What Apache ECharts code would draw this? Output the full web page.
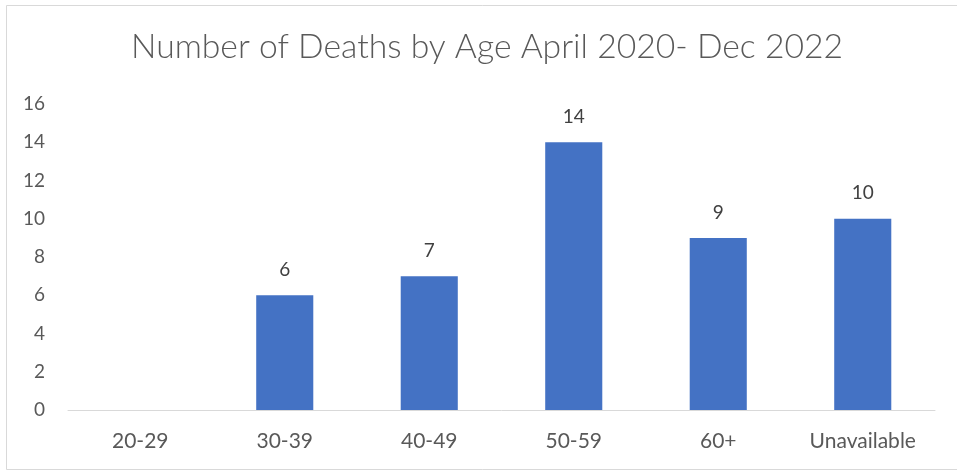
<!DOCTYPE html>
<html>
<head>
<meta charset="utf-8">
<style>
  html, body { margin: 0; padding: 0; background: #fff; }
  #chart { width: 957px; height: 472px; }
</style>
<script src="https://cdn.jsdelivr.net/npm/echarts@6/dist/echarts.min.js"></script>
</head>
<body>
<div id="chart"></div>
<script>
// Age groups and number of deaths in each
const ageGroups = ['20-29', '30-39', '40-49', '50-59', '60+', 'Unavailable'];
const deaths = [null, 6, 7, 14, 9, 10];
const yTicks = { min: 0, max: 16, interval: 2 };

const FONT = 'Lato, "Open Sans", sans-serif';

const chart = echarts.init(document.getElementById('chart'), null, { renderer: 'canvas' });

chart.setOption({
  animation: false,
  backgroundColor: '#ffffff',
  title: {
    text: 'Number of Deaths by Age April 2020- Dec 2022',
    left: 131,
    top: 30,
    padding: 0,
    textStyle: { fontFamily: FONT, fontSize: 33.7, fontWeight: 300, color: '#595959' }
  },
  graphic: [{
    type: 'rect',
    shape: { x: 6.5, y: 5.5, width: 960, height: 464 },
    style: { fill: 'none', stroke: '#d9d9d9', lineWidth: 1 },
    silent: true
  }],
  grid: { left: 68, right: 22, top: 104, bottom: 62 },
  xAxis: {
    type: 'category',
    data: ageGroups,
    axisLine: { lineStyle: { color: '#d9d9d9', width: 1 } },
    axisTick: { show: false },
    axisLabel: { fontFamily: FONT, fontSize: 21, color: '#595959', margin: 21 }
  },
  yAxis: {
    type: 'value',
    min: yTicks.min,
    max: yTicks.max,
    interval: yTicks.interval,
    splitLine: { show: false },
    axisLine: { show: false },
    axisTick: { show: false },
    axisLabel: { fontFamily: FONT, fontSize: 19, color: '#595959', margin: 23 }
  },
  series: [{
    type: 'bar',
    data: deaths,
    barWidth: '39.5%',
    itemStyle: { color: '#4472c4' },
    label: {
      show: true,
      position: 'top',
      distance: 16,
      fontFamily: FONT,
      fontSize: 19,
      color: '#404040'
    }
  }]
});
</script>
</body>
</html>
